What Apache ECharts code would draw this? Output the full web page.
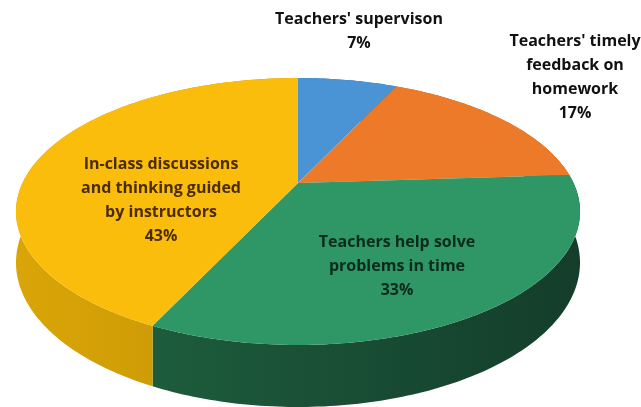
<!DOCTYPE html>
<html><head><meta charset="utf-8">
<style>html,body{margin:0;padding:0;background:#fff}#c{width:641px;height:407px}</style>
<script src="https://cdn.jsdelivr.net/npm/echarts@6/dist/echarts.min.js"></script>
</head><body><div id="c"></div>
<script>
const categories = ["Teachers' supervison", "Teachers' timely\nfeedback on\nhomework", "Teachers help solve\nproblems in time", "In-class discussions\nand thinking guided\nby instructors"];
const shares = [7, 17, 33, 43];
const topColors = ['#4a94d6', '#ec7a28', '#2f9665', '#fbbd0c'];
const sideColors = [['#2f6fa8','#2f6fa8'], ['#b55a1c','#b55a1c'], ['#1d5c3c','#143d2b'], ['#d9a507','#c39304']];
const labelColors = ['#111', '#111', '#0c2a1c', '#4a2c00'];
const labelAnchors = [[359,7], [575,29], [397,230], [161,152]];

// Perspective view of the tilted disc.
const view = {cx:298, cy:183, a:88.3, c:-0.2135, A:275.5, depth:48.8};
function project(theta, lower){
  const u = Math.sin(theta), v = -Math.cos(theta), w = 1 + view.c*v;
  return [view.cx + view.A*u/w, (view.a*v + view.cy)/w + (lower ? view.depth/w : 0)];
}
function arc(a0, a1, lower){
  const n = Math.max(2, Math.ceil((a1-a0)*60)), pts = [];
  for(let i=0;i<=n;i++) pts.push(project(a0+(a1-a0)*i/n, lower));
  return pts;
}
const total = shares.reduce((s,x)=>s+x,0);
let run = 0;
const sliceData = shares.map((s,i)=>{const d=[i,run,s]; run+=s; return d;});
const toAngle = x => x/total*2*Math.PI;

function renderSide(params, api){
  const i=api.value(0), a0=toAngle(api.value(1)), a1=a0+toAngle(api.value(2));
  const points = arc(a0,a1,false).concat(arc(a0,a1,true).reverse());
  return {type:'polygon', shape:{points}, style:{
    fill:new echarts.graphic.LinearGradient(0,0,1,0,[{offset:0,color:sideColors[i][0]},{offset:1,color:sideColors[i][1]}])}};
}
function renderTop(params, api){
  const i=api.value(0), a0=toAngle(api.value(1)), a1=a0+toAngle(api.value(2));
  const points = [[view.cx,view.cy]].concat(arc(a0,a1,false));
  return {type:'polygon', shape:{points}, style:{fill:topColors[i]}};
}
function renderLabel(params, api){
  const i=api.value(0);
  return {type:'text', style:{
    text:categories[i]+'\n'+api.value(2)+'%', x:labelAnchors[i][0], y:labelAnchors[i][1],
    align:'center', verticalAlign:'top', fill:labelColors[i],
    font:'bold 16px "Open Sans", sans-serif', lineHeight:24
  }};
}
const chart = echarts.init(document.getElementById('c'), null, {renderer:'canvas'});
chart.setOption({
  animation:false, backgroundColor:'#fff',
  series:[
    {type:'custom', coordinateSystem:'none', renderItem:renderSide, data:sliceData, silent:true, z:1},
    {type:'custom', coordinateSystem:'none', renderItem:renderTop, data:sliceData, silent:true, z:2},
    {type:'custom', coordinateSystem:'none', renderItem:renderLabel, data:sliceData, silent:true, z:3}
  ]
});
</script></body></html>
